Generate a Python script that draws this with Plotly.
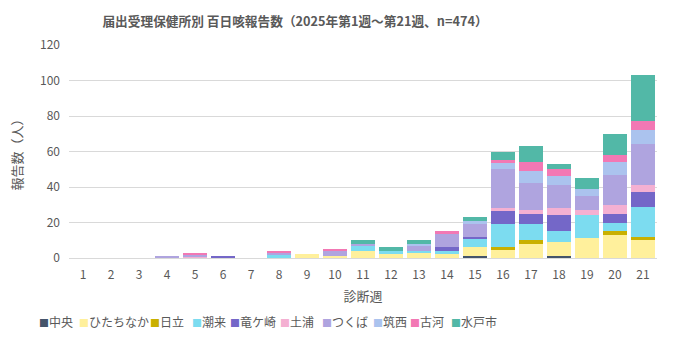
import plotly.graph_objects as go

weeks = [str(i) for i in range(1, 22)]

series_names = ["中央", "ひたちなか", "日立", "潮来", "竜ケ崎", "土浦", "つくば", "筑西", "古河", "水戸市"]
series_colors = ["#44546A", "#FFF09C", "#C9B000", "#7CDCF0", "#7467C8", "#F4B0D2", "#AFA4DF", "#ABC3EE", "#F278B4", "#52B8A7"]

chuo      = [0,0,0,0,0,0,0,0,0,0,0,0,0,0,1,0,0,1,0,0,0]
hitachinaka = [0,0,0,0,0,0,0,0,2,1,4,2,3,2,5,5,8,8,11,13,10]
hitachi   = [0,0,0,0,0,0,0,0,0,0,0,0,0,0,0,1,2,0,0,2,2]
itako     = [0,0,0,0,0,0,0,2,0,0,3,2,1,2,5,13,9,6,13,5,17]
ryugasaki = [0,0,0,0,0,1,0,0,0,0,0,0,0,2,1,8,6,9,0,5,8]
tsuchiura = [0,0,0,0,1,0,0,0,0,0,0,0,0,0,0,1,2,4,3,5,4]
tsukuba   = [0,0,0,1,1,0,0,1,0,3,1,0,3,8,7,22,15,13,8,17,23]
chikusei  = [0,0,0,0,0,0,0,0,0,0,0,0,1,0,2,4,7,5,4,7,8]
koga      = [0,0,0,0,1,0,0,1,0,1,0,0,0,1,0,1,5,4,0,4,5]
mito      = [0,0,0,0,0,0,0,0,0,0,2,2,2,0,2,5,9,3,6,12,26]

series_values = [chuo, hitachinaka, hitachi, itako, ryugasaki, tsuchiura, tsukuba, chikusei, koga, mito]

y_ticks = [0, 20, 40, 60, 80, 100, 120]

FONT = "Noto Sans CJK JP"
GRAY = "#595959"

W, H = 680, 340
ML, MR, MT, MB = 69, 23, 45, 82
PW = W - ML - MR
PH = H - MT - MB

fig = go.Figure()
for name, color, vals in zip(series_names, series_colors, series_values):
    fig.add_trace(go.Bar(x=weeks, y=vals, name=name, marker=dict(color=color, line=dict(width=0))))

# custom legend as text annotations
legend_sq_px = [37, 77, 148, 190, 228, 278, 320, 371, 408, 449]
legend_y_px = 321
annotations = []
for name, color, px in zip(series_names, series_colors, legend_sq_px):
    annotations.append(dict(
        xref="paper", yref="paper",
        x=(px - ML) / PW, y=(MT + PH - legend_y_px) / PH,
        xanchor="left", yanchor="middle",
        text=f"<span style='color:{color};font-size:10px'>■</span>{name}",
        showarrow=False, font=dict(family=FONT, size=12, color=GRAY),
    ))

fig.update_layout(
    width=W, height=H,
    margin=dict(l=ML, r=MR, t=MT, b=MB),
    paper_bgcolor="white", plot_bgcolor="white",
    barmode="stack", bargap=0.14,
    showlegend=False,
    font=dict(family=FONT, color=GRAY, size=12),
    title=dict(
        text="<b>届出受理保健所別 百日咳報告数（2025年第1週～第21週、n=474）</b>",
        x=295 / W, xref="container", xanchor="center",
        y=1 - 22 / H, yref="container", yanchor="middle",
        font=dict(family=FONT, size=12.7, color=GRAY),
    ),
    xaxis=dict(
        type="category", categoryorder="array", categoryarray=weeks,
        showline=True, linecolor="#D9D9D9", linewidth=1,
        showgrid=False, ticks="",
        ticklabelstandoff=6,
        tickfont=dict(family=FONT, size=12, color=GRAY),
        title=dict(text="診断週", font=dict(family=FONT, size=13, color=GRAY), standoff=10),
    ),
    yaxis=dict(
        range=[0, 120], tickvals=y_ticks,
        showgrid=True, gridcolor="#D9D9D9", gridwidth=1,
        zeroline=False, showline=False, ticks="",
        ticklabelstandoff=8,
        tickfont=dict(family=FONT, size=12, color=GRAY),
        title=dict(text="報告数（人）", font=dict(family=FONT, size=13, color=GRAY), standoff=14),
    ),
    annotations=annotations,
)

fig.write_html("out.html")
